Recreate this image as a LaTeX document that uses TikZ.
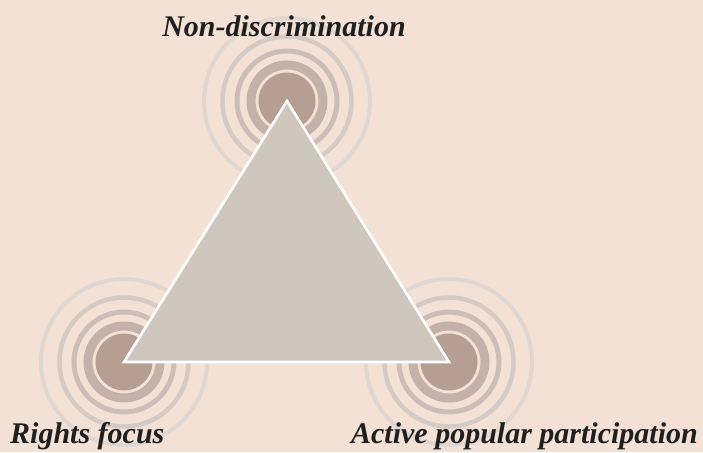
\documentclass[tikz,border=0pt]{standalone}
\usepackage{fontspec}
\setmainfont{Liberation Serif}
\usepackage{xcolor}

\definecolor{paper}{HTML}{F3E1D6}
\definecolor{core}{HTML}{B69E92}
\definecolor{ringa}{HTML}{C4B1A9}
\definecolor{ringb}{HTML}{CCBEB7}
\definecolor{ringc}{HTML}{D6CAC4}
\definecolor{ringd}{HTML}{E0D7D3}
\definecolor{tri}{HTML}{CFC6BE}

\begin{document}
\begin{tikzpicture}[x=1pt,y=-1pt,
  disk/.style={fill=core},
  ring/.style={draw=#1},
  lbl/.style={font=\fontsize{30}{34}\selectfont\bfseries\itshape,text=black!88,inner sep=0pt},
  tribox/.style={fill=tri,draw=white,line width=2.6pt,line join=miter}]
  % page
  \fill[paper] (0,0) rectangle (703,452);
  \useasboundingbox (0,0) rectangle (703,452);
  % corners of the triangle
  \coordinate (nd) at (287,101);
  \coordinate (rf) at (124,362);
  \coordinate (ap) at (449,362);
  % rings round each corner
  \foreach \c in {nd,rf,ap}{
    \draw[ring=ringd,line width=4pt] (\c) circle (83);
    \draw[ring=ringc,line width=4.5pt] (\c) circle (64.5);
    \draw[ring=ringb,line width=5pt] (\c) circle (50);
    \draw[ring=ringa,line width=9pt] (\c) circle (36);
    \fill[disk] (\c) circle (28.5);
  }
  % triangle
  \draw[tribox] (nd) -- (rf) -- (ap) -- cycle;
  % labels
  \node[lbl,anchor=base] (ndlbl) at (284,37) {Non-discrimination};
  \node[lbl,anchor=base west] (rflbl) at (10,443) {Rights focus};
  \node[lbl,anchor=base east] (aplbl) at (698,443) {Active popular participation};
\end{tikzpicture}
\end{document}
